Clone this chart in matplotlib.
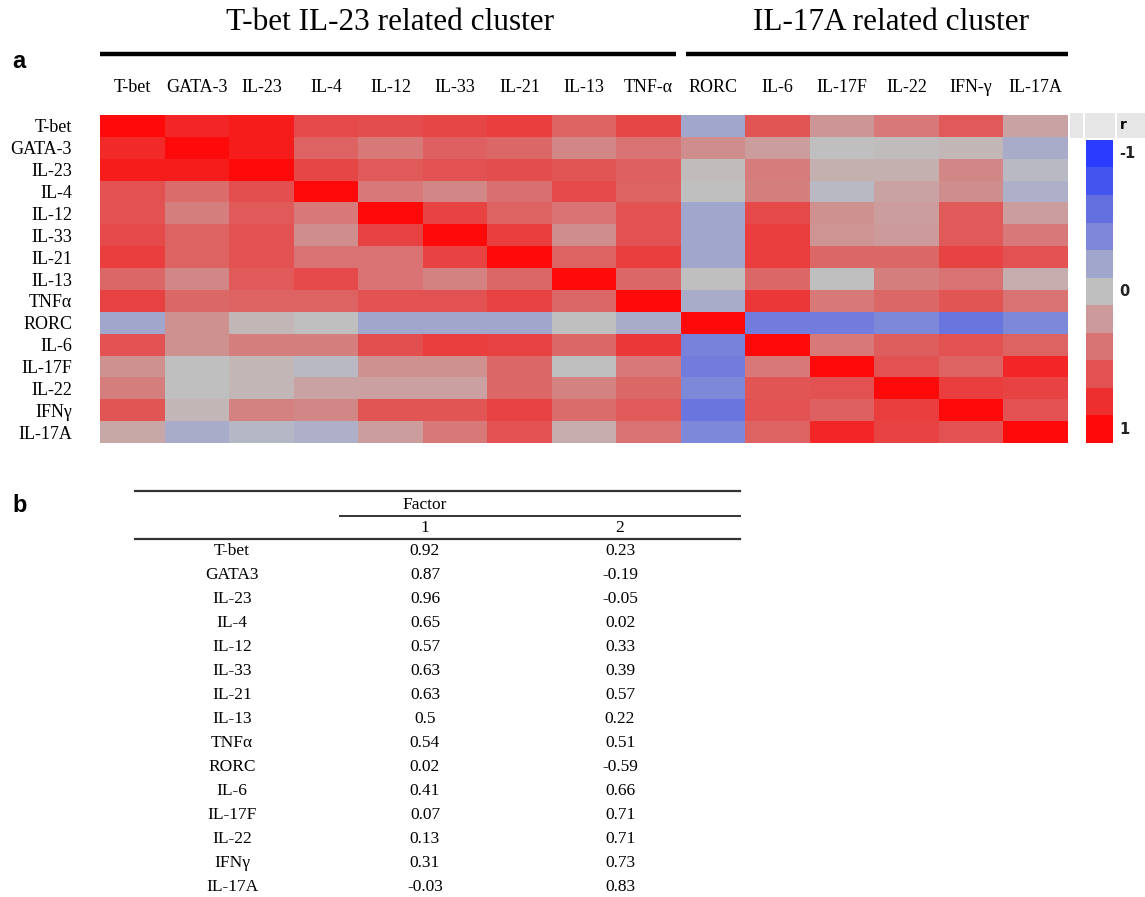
import numpy as np
import matplotlib
matplotlib.use("Agg")
import matplotlib.pyplot as plt
from matplotlib.colors import LinearSegmentedColormap
from matplotlib.patches import Rectangle

# --- data -------------------------------------------------------------
col_labels = ["T-bet", "GATA-3", "IL-23", "IL-4", "IL-12", "IL-33", "IL-21", "IL-13",
              "TNF-\u03b1", "RORC", "IL-6", "IL-17F", "IL-22", "IFN-\u03b3", "IL-17A"]
row_labels = ["T-bet", "GATA-3", "IL-23", "IL-4", "IL-12", "IL-33", "IL-21", "IL-13",
              "TNF\u03b1", "RORC", "IL-6", "IL-17F", "IL-22", "IFN\u03b3", "IL-17A"]

# correlation r
corr = [
    [1.00, 0.85, 0.90, 0.65, 0.63, 0.67, 0.72, 0.50, 0.67, -0.20, 0.58, 0.22, 0.38, 0.55, 0.15],
    [0.83, 1.00, 0.90, 0.50, 0.38, 0.52, 0.48, 0.30, 0.42, 0.27, 0.18, 0.00, 0.02, 0.05, -0.15],
    [0.90, 0.90, 1.00, 0.67, 0.55, 0.60, 0.63, 0.58, 0.52, 0.03, 0.36, 0.08, 0.08, 0.30, -0.05],
    [0.60, 0.45, 0.62, 1.00, 0.38, 0.30, 0.43, 0.65, 0.50, 0.00, 0.35, -0.05, 0.15, 0.27, -0.12],
    [0.60, 0.35, 0.55, 0.38, 1.00, 0.68, 0.50, 0.42, 0.60, -0.20, 0.65, 0.25, 0.18, 0.55, 0.18],
    [0.65, 0.50, 0.60, 0.27, 0.70, 1.00, 0.72, 0.27, 0.60, -0.20, 0.72, 0.23, 0.20, 0.55, 0.38],
    [0.72, 0.50, 0.60, 0.42, 0.42, 0.68, 1.00, 0.50, 0.72, -0.20, 0.72, 0.48, 0.48, 0.68, 0.60],
    [0.48, 0.30, 0.55, 0.65, 0.42, 0.33, 0.48, 1.00, 0.48, 0.00, 0.48, 0.00, 0.35, 0.42, 0.10],
    [0.70, 0.48, 0.50, 0.50, 0.60, 0.60, 0.70, 0.48, 1.00, -0.15, 0.75, 0.38, 0.48, 0.58, 0.42],
    [-0.20, 0.25, 0.05, 0.00, -0.20, -0.20, -0.20, 0.00, -0.15, 1.00, -0.50, -0.50, -0.40, -0.55, -0.40],
    [0.60, 0.25, 0.35, 0.35, 0.62, 0.72, 0.70, 0.48, 0.75, -0.45, 1.00, 0.38, 0.53, 0.60, 0.50],
    [0.25, 0.00, 0.05, -0.05, 0.25, 0.25, 0.48, 0.00, 0.38, -0.50, 0.38, 1.00, 0.60, 0.50, 0.85],
    [0.35, 0.00, 0.05, 0.15, 0.17, 0.17, 0.48, 0.33, 0.48, -0.40, 0.58, 0.60, 1.00, 0.72, 0.68],
    [0.58, 0.05, 0.33, 0.30, 0.58, 0.58, 0.70, 0.45, 0.55, -0.55, 0.60, 0.52, 0.72, 1.00, 0.60],
    [0.13, -0.15, -0.07, -0.12, 0.18, 0.38, 0.60, 0.10, 0.42, -0.40, 0.50, 0.85, 0.68, 0.60, 1.00],
]

cluster_titles = ["T-bet IL-23 related cluster", "IL-17A related cluster"]
cluster_sizes = [9, 6]

scale_levels = np.linspace(-1, 1, 11)
scale_ticks = ["-1", "0", "1"]

# factor loadings table (panel b)
table_rows = ["T-bet", "GATA3", "IL-23", "IL-4", "IL-12", "IL-33", "IL-21", "IL-13",
              "TNF\u03b1", "RORC", "IL-6", "IL-17F", "IL-22", "IFN\u03b3", "IL-17A"]
factor1 = ["0.92", "0.87", "0.96", "0.65", "0.57", "0.63", "0.63", "0.5",
           "0.54", "0.02", "0.41", "0.07", "0.13", "0.31", "-0.03"]
factor2 = ["0.23", "-0.19", "-0.05", "0.02", "0.33", "0.39", "0.57", "0.22",
           "0.51", "-0.59", "0.66", "0.71", "0.71", "0.73", "0.83"]

# --- figure -----------------------------------------------------------
W, H = 1145, 897
fig = plt.figure(figsize=(W / 100, H / 100), dpi=100)
serif = "Liberation Serif"

def px_axes(l, t, r, b):
    return fig.add_axes([l / W, 1 - b / H, (r - l) / W, (b - t) / H])

cmap = LinearSegmentedColormap.from_list("rb", [
    "#2B3BFF", "#4456EE", "#6470E0", "#7F88D8", "#A0A6CC", "#C0C0C0",
    "#CC9A9A", "#D87575", "#E25252", "#EE3030", "#FF0A0A"])

# heat map
hx0, hx1, hy0, hy1 = 100, 1068, 115, 443
ax = px_axes(hx0, hy0, hx1, hy1)
M = np.array(corr)
ax.pcolormesh(M, cmap=cmap, vmin=-1, vmax=1)
ax.set_xlim(0, 15); ax.set_ylim(15, 0)
ax.xaxis.tick_top()
ax.set_xticks(np.arange(15) + 0.5, col_labels, fontsize=13, family=serif)
ax.set_yticks(np.arange(15) + 0.5, row_labels, fontsize=13, family=serif)
ax.tick_params(axis="x", length=0, pad=14)
ax.tick_params(axis="y", length=0, pad=20)
for s in ax.spines.values():
    s.set_visible(False)

# colour scale
cax = px_axes(1086, 140, 1113, 443)
cax.imshow(scale_levels.reshape(-1, 1), cmap=cmap, vmin=-1, vmax=1, aspect="auto",
           interpolation="nearest")
cax.set_xticks([]); cax.set_yticks([])
for s in cax.spines.values():
    s.set_visible(False)

# overlay in pixel coordinates
ov = fig.add_axes([0, 0, 1, 1])
ov.set_xlim(0, W); ov.set_ylim(H, 0); ov.axis("off")
ov.set_zorder(-1)

# cluster headers
cw = (hx1 - hx0) / 15
start = 0
gaps = [(0, -5), (5, 0)]
title_x = [390, 891]
for title, n, (g0, g1), tx in zip(cluster_titles, cluster_sizes, gaps, title_x):
    x0 = hx0 + start * cw + g0
    x1 = hx0 + (start + n) * cw + g1
    ov.plot([x0, x1], [54, 54], color="black", lw=3.2, solid_capstyle="butt")
    ov.text(tx, 22, title, fontsize=22.5, family=serif, ha="center", va="center")
    start += n

ov.text(12, 62, "a", fontsize=17, fontweight="bold", family="Liberation Sans",
        ha="left", va="center")
ov.text(12, 505, "b", fontsize=17, fontweight="bold", family="Liberation Sans",
        ha="left", va="center")

# colour scale header
for (l, r) in [(1070, 1083), (1085, 1115), (1117, 1145)]:
    ov.add_patch(Rectangle((l, 113), r - l, 25, color="#E6E6E6", lw=0))
ov.text(1120, 125, "r", fontsize=10, fontweight="bold", ha="left", va="center")
step = (443 - 140) / 11
for lab, k in zip(scale_ticks, [0, 5, 10]):
    ov.text(1119, 140 + step * (k + 0.5), lab, fontsize=10.5, fontweight="bold",
            color="#222222", ha="left", va="center")

# table b
tl, tr = 135, 740
ov.plot([tl, tr], [491, 491], color="#333333", lw=1.6)
ov.plot([340, tr], [516, 516], color="#333333", lw=1.4)
ov.plot([tl, tr], [539, 539], color="#333333", lw=1.6)
fs = 12.5
ov.text(425, 505, "Factor", fontsize=fs, family=serif, ha="center", va="center")
ov.text(425, 528, "1", fontsize=fs, family=serif, ha="center", va="center")
ov.text(620, 528, "2", fontsize=fs, family=serif, ha="center", va="center")
for i, (lab, f1, f2) in enumerate(zip(table_rows, factor1, factor2)):
    y = 551 + i * 24
    ov.text(232, y, lab, fontsize=fs, family=serif, ha="center", va="center")
    ov.text(425, y, f1, fontsize=fs, family=serif, ha="center", va="center")
    ov.text(620, y, f2, fontsize=fs, family=serif, ha="center", va="center")

fig.savefig("out.png", dpi=100)
